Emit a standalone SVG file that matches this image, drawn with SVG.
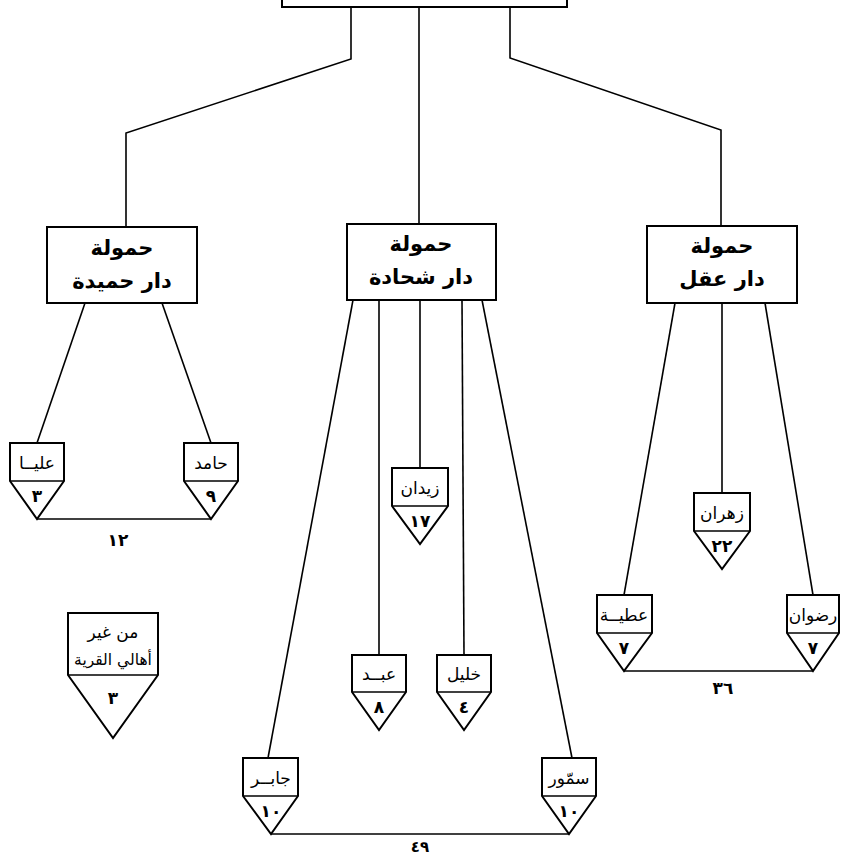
<svg xmlns="http://www.w3.org/2000/svg" width="843" height="857" viewBox="0 0 843 857">
<style>
.box{fill:#fff;stroke:#000;stroke-width:2}
.ln{fill:none;stroke:#000;stroke-width:1.6}
.t{font-family:"DejaVu Sans",sans-serif;font-weight:bold;font-size:21px;text-anchor:middle;fill:#000}
.l{font-family:"DejaVu Sans",sans-serif;font-size:17px;text-anchor:middle;fill:#000}
.n{font-family:"DejaVu Sans",sans-serif;font-weight:bold;font-size:17px;text-anchor:middle;fill:#000}
</style>
<g id="connectors">
<polyline class="ln" points="351,7 351,59 126,133 126,228"/>
<polyline class="ln" points="419,7 419,224"/>
<polyline class="ln" points="510,7 510,58 721,130 721,226"/>
<line class="ln" x1="85" y1="303" x2="37" y2="443"/>
<line class="ln" x1="162" y1="303" x2="211" y2="443"/>
<line class="ln" x1="353" y1="300" x2="268" y2="758"/>
<line class="ln" x1="379" y1="300" x2="379" y2="655"/>
<line class="ln" x1="420" y1="300" x2="420" y2="468"/>
<line class="ln" x1="462" y1="300" x2="464" y2="655"/>
<line class="ln" x1="482" y1="300" x2="572" y2="758"/>
<line class="ln" x1="675" y1="303" x2="624" y2="595"/>
<line class="ln" x1="722" y1="303" x2="722" y2="493"/>
<line class="ln" x1="765" y1="303" x2="813" y2="595"/>
<line class="ln" x1="37" y1="519" x2="211" y2="519"/>
<line class="ln" x1="624" y1="671" x2="813" y2="671"/>
<line class="ln" x1="271" y1="834" x2="569" y2="834"/>
</g>
<g id="root"><rect class="box" x="282" y="-20" width="285" height="27"/></g>
<g id="hamida"><rect class="box" x="47" y="227" width="150" height="76"/><text class="t" x="122" y="255">حمولة</text><text class="t" x="122" y="288">دار حميدة</text></g>
<g id="shahada"><rect class="box" x="347" y="224" width="149" height="76"/><text class="t" x="421" y="251">حمولة</text><text class="t" x="421" y="284">دار شحادة</text></g>
<g id="aql"><rect class="box" x="647" y="226" width="150" height="77"/><text class="t" x="722" y="253">حمولة</text><text class="t" x="722" y="286">دار عقل</text></g>
<g id="aliya"><path class="box" d="M10,443H64V481L37,519L10,481Z"/><line class="ln" x1="10" y1="481" x2="64" y2="481"/><text class="l" x="37" y="469">عليــا</text><text class="n" x="37" y="502">٣</text></g>
<g id="hamid"><path class="box" d="M184,443H238V481L211,519L184,481Z"/><line class="ln" x1="184" y1="481" x2="238" y2="481"/><text class="l" x="211" y="469">حامد</text><text class="n" x="211" y="502">٩</text></g>
<text class="n" x="118" y="546">١٢</text>
<g id="zaydan"><path class="box" d="M392,468H448V506L420,544L392,506Z"/><line class="ln" x1="392" y1="506" x2="448" y2="506"/><text class="l" x="420" y="494">زيدان</text><text class="n" x="420" y="527">١٧</text></g>
<g id="zahran"><path class="box" d="M694,493H750V531L722,569L694,531Z"/><line class="ln" x1="694" y1="531" x2="750" y2="531"/><text class="l" x="722" y="519">زهران</text><text class="n" x="722" y="552">٢٢</text></g>
<g id="atiya"><path class="box" d="M597,595H652V633L624,671L597,633Z"/><line class="ln" x1="597" y1="633" x2="652" y2="633"/><text class="l" x="624" y="621">عطيــة</text><text class="n" x="624" y="654">٧</text></g>
<g id="ridwan"><path class="box" d="M787,595H839V633L813,671L787,633Z"/><line class="ln" x1="787" y1="633" x2="839" y2="633"/><text class="l" x="813" y="621">رضوان</text><text class="n" x="813" y="654">٧</text></g>
<text class="n" x="723" y="694">٣٦</text>
<g id="eid"><path class="box" d="M352,655H406V692L379,730L352,692Z"/><line class="ln" x1="352" y1="692" x2="406" y2="692"/><text class="l" x="379" y="680">عبــد</text><text class="n" x="379" y="713">٨</text></g>
<g id="khalil"><path class="box" d="M437,655H491V692L464,730L437,692Z"/><line class="ln" x1="437" y1="692" x2="491" y2="692"/><text class="l" x="464" y="680">خليل</text><text class="n" x="464" y="713">٤</text></g>
<g id="outsiders"><path class="box" d="M68,613H158V675L113,738L68,675Z"/><line class="ln" x1="68" y1="675" x2="158" y2="675"/><text class="l" x="113" y="638">من غير</text><text class="l" x="113" y="665" style="font-size:15.5px">أهالي القرية</text><text class="n" x="113" y="704">٣</text></g>
<g id="jaber"><path class="box" d="M243,758H298V796L271,834L243,796Z"/><line class="ln" x1="243" y1="796" x2="298" y2="796"/><text class="l" x="271" y="784">جابــر</text><text class="n" x="271" y="817">١٠</text></g>
<g id="samur"><path class="box" d="M542,758H596V796L569,834L542,796Z"/><line class="ln" x1="542" y1="796" x2="596" y2="796"/><text class="l" x="569" y="784">سمّور</text><text class="n" x="569" y="817">١٠</text></g>
<text class="n" x="420" y="852" style="font-size:15px">٤٩</text>
</svg>
